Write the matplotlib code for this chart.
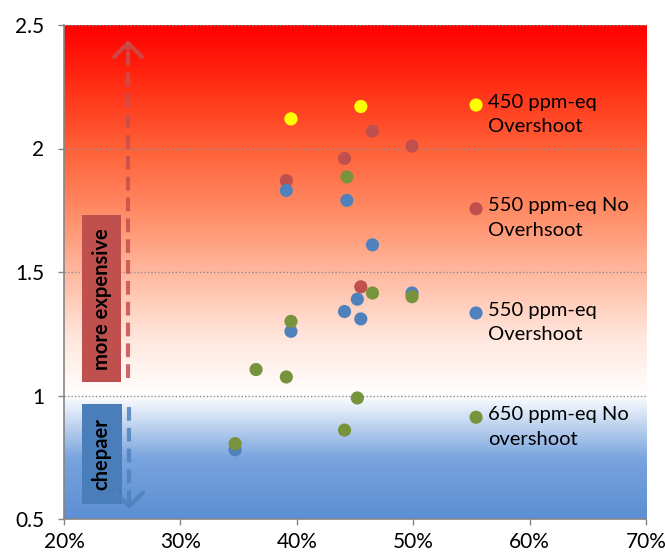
import numpy as np
import matplotlib
matplotlib.use("Agg")
import matplotlib.pyplot as plt
from matplotlib.colors import LinearSegmentedColormap
from matplotlib.patches import Rectangle

plt.rcParams['font.family'] = ['Lato', 'DejaVu Sans']

# Share of the reduction (x) vs relative cost (y) per scenario group
series_names = ["450 ppm-eq\nOvershoot",
                "550 ppm-eq No\nOverhsoot",
                "550 ppm-eq\nOvershoot",
                "650 ppm-eq No\novershoot"]
series_colors = ["#FFFF00", "#C0504D", "#4F81BD", "#77933C"]

x_450_over = [0.395, 0.455]
y_450_over = [2.12, 2.17]

x_550_no = [0.391, 0.441, 0.465, 0.499, 0.455]
y_550_no = [1.87, 1.96, 2.07, 2.01, 1.44]

x_550_over = [0.391, 0.443, 0.465, 0.452, 0.441, 0.455, 0.499, 0.395, 0.347]
y_550_over = [1.83, 1.79, 1.61, 1.39, 1.34, 1.31, 1.415, 1.26, 0.78]

x_650_no = [0.443, 0.465, 0.499, 0.452, 0.441, 0.395, 0.365, 0.391, 0.347]
y_650_no = [1.885, 1.415, 1.40, 0.99, 0.86, 1.30, 1.105, 1.075, 0.805]

x_ticks = [0.2, 0.3, 0.4, 0.5, 0.6, 0.7]
x_tick_labels = ["20%", "30%", "40%", "50%", "60%", "70%"]
y_ticks = [0.5, 1.0, 1.5, 2.0, 2.5]
y_tick_labels = ["0.5", "1", "1.5", "2", "2.5"]

W, H = 665, 557
fig = plt.figure(figsize=(W / 100, H / 100), dpi=100)
ax = fig.add_axes([64 / W, (H - 519) / H, (646 - 64) / W, (519 - 25) / H])
ax.set_xlim(0.2, 0.7)
ax.set_ylim(0.5, 2.5)

# Background: red (expensive) fading to white at 1, then to blue (cheaper)
cmap = LinearSegmentedColormap.from_list("cost", [
    (0.00, (0.36, 0.56, 0.83)),
    (0.12, (0.47, 0.64, 0.87)),
    (0.25, (1.00, 1.00, 1.00)),
    (0.37, (1.00, 0.90, 0.86)),
    (0.50, (1.00, 0.72, 0.62)),
    (0.62, (1.00, 0.55, 0.40)),
    (0.75, (1.00, 0.38, 0.22)),
    (0.88, (1.00, 0.18, 0.08)),
    (1.00, (1.00, 0.00, 0.00)),
])
grad = np.linspace(0, 1, 512).reshape(-1, 1)
ax.imshow(grad, cmap=cmap, origin="lower", aspect="auto",
          extent=[0.2, 0.7, 0.5, 2.5], zorder=0, interpolation="bilinear")

# Dotted horizontal gridlines
for yv in [1.0, 1.5, 2.0, 2.5]:
    ax.axhline(yv, color="#8C8C8C", lw=1.0, ls=(0, (1, 1.5)), zorder=1)

for xs, ys, c in [(x_450_over, y_450_over, series_colors[0]),
                  (x_550_no, y_550_no, series_colors[1]),
                  (x_550_over, y_550_over, series_colors[2]),
                  (x_650_no, y_650_no, series_colors[3])]:
    ax.scatter(xs, ys, s=90, color=c, edgecolors="none", zorder=3)

ax.set_xticks(x_ticks)
ax.set_xticklabels(x_tick_labels)
ax.set_yticks(y_ticks)
ax.set_yticklabels(y_tick_labels)
ax.tick_params(axis="both", direction="out", length=4, width=1,
               color="#868686", labelsize=15, labelcolor="black")
ax.tick_params(axis="x", pad=5)
ax.tick_params(axis="y", pad=10)
for side in ["top", "right"]:
    ax.spines[side].set_visible(False)
for side in ["left", "bottom"]:
    ax.spines[side].set_color("#868686")
    ax.spines[side].set_linewidth(1.2)

# Annotation boxes and arrows
tr = ax.transAxes
ax.add_patch(Rectangle((0.031, 0.277), 0.067, 0.338, transform=tr,
                       facecolor="#C0504D", edgecolor="none", zorder=2))
ax.text(0.0645, 0.446, "more expensive", transform=tr, rotation=90,
        ha="center", va="center", fontsize=14.5, fontweight="bold", zorder=4)
ax.add_patch(Rectangle((0.031, 0.030), 0.068, 0.203, transform=tr,
                       facecolor="#4A7EBB", edgecolor="none", zorder=2))
ax.text(0.0645, 0.1315, "chepaer", transform=tr, rotation=90,
        ha="center", va="center", fontsize=14.5, fontweight="bold", zorder=4)

red_arrow = (0.78, 0.31, 0.30, 0.85)
blue_arrow = (0.31, 0.51, 0.74, 0.85)
ax.plot([0.110, 0.110], [0.286, 0.955], transform=tr, color=red_arrow,
        lw=3.0, ls=(0, (3.3, 1.7)), zorder=2, solid_capstyle="butt")
ax.annotate("", xy=(0.110, 0.975), xytext=(0.110, 0.945), xycoords=tr,
            arrowprops=dict(arrowstyle="->,head_length=0.5,head_width=0.5",
                            color=red_arrow, lw=3.0, mutation_scale=20),
            zorder=2)
ax.plot([0.112, 0.112], [0.227, 0.035], transform=tr, color=blue_arrow,
        lw=3.0, ls=(0, (3.3, 1.7)), zorder=2, solid_capstyle="butt")
ax.annotate("", xy=(0.112, 0.014), xytext=(0.112, 0.044), xycoords=tr,
            arrowprops=dict(arrowstyle="->,head_length=0.5,head_width=0.5",
                            color=blue_arrow, lw=3.0, mutation_scale=20),
            zorder=2)

# Legend drawn inside the plot area
leg_y = [0.838, 0.628, 0.417, 0.206]
for name, c, yy in zip(series_names, series_colors, leg_y):
    ax.scatter([0.708], [yy], s=90, color=c, edgecolors="none",
               transform=tr, zorder=4, clip_on=False)
    ax.text(0.729, yy + 0.023, name, transform=tr, ha="left", va="top",
            fontsize=14.5, linespacing=1.55, zorder=4)

fig.savefig("out.png", dpi=100)
